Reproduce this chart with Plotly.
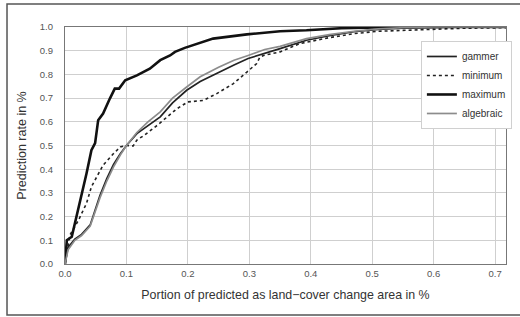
import plotly.graph_objects as go

# Data
gammer_x = [0, 0.005, 0.016, 0.027, 0.041, 0.049, 0.057, 0.068, 0.079, 0.09, 0.1,
            0.117, 0.135, 0.155, 0.175, 0.198, 0.22, 0.25, 0.275, 0.298, 0.325,
            0.35, 0.393, 0.43, 0.47, 0.51, 0.55, 0.6, 0.65, 0.72]
gammer_y = [0, 0.07, 0.105, 0.125, 0.165, 0.23, 0.29, 0.36, 0.42, 0.465, 0.5,
            0.55, 0.585, 0.621, 0.68, 0.733, 0.77, 0.81, 0.84, 0.867, 0.89,
            0.909, 0.944, 0.963, 0.98, 0.99, 0.995, 0.999, 1.0, 1.0]

algebraic_x = gammer_x
algebraic_y = [0, 0.06, 0.1, 0.12, 0.16, 0.22, 0.28, 0.35, 0.41, 0.46, 0.5,
               0.555, 0.6, 0.642, 0.70, 0.747, 0.79, 0.83, 0.86, 0.88, 0.905,
               0.918, 0.951, 0.968, 0.982, 0.992, 0.997, 1.0, 1.0, 1.0]

minimum_x = [0, 0.008, 0.022, 0.035, 0.043, 0.054, 0.062, 0.079, 0.09, 0.1, 0.111,
             0.117, 0.13, 0.15, 0.182, 0.2, 0.225, 0.247, 0.274, 0.296, 0.312,
             0.317, 0.323, 0.35, 0.382, 0.43, 0.47, 0.51, 0.545, 0.6, 0.65, 0.72]
minimum_y = [0, 0.122, 0.185, 0.256, 0.326, 0.382, 0.417, 0.466, 0.494, 0.5, 0.498,
             0.523, 0.545, 0.585, 0.655, 0.684, 0.69, 0.719, 0.761, 0.81, 0.846,
             0.872, 0.88, 0.895, 0.93, 0.955, 0.972, 0.982, 0.986, 0.992, 0.995, 0.997]

maximum_x = [0, 0.003, 0.011, 0.019, 0.027, 0.035, 0.043, 0.049, 0.054, 0.062, 0.073,
             0.081, 0.088, 0.098, 0.117, 0.138, 0.155, 0.171, 0.179, 0.195, 0.241,
             0.296, 0.35, 0.393, 0.45, 0.5, 0.55, 0.6, 0.72]
maximum_y = [0, 0.10, 0.115, 0.2, 0.29, 0.382, 0.48, 0.51, 0.607, 0.635, 0.698,
             0.74, 0.74, 0.775, 0.796, 0.824, 0.86, 0.88, 0.895, 0.912, 0.951,
             0.969, 0.982, 0.986, 0.995, 0.998, 1.0, 1.0, 1.0]

x_ticks = [0.0, 0.1, 0.2, 0.3, 0.4, 0.5, 0.6, 0.7]
y_ticks = [0.0, 0.1, 0.2, 0.3, 0.4, 0.5, 0.6, 0.7, 0.8, 0.9, 1.0]

fig = go.Figure()
fig.add_trace(go.Scatter(x=gammer_x, y=gammer_y, mode="lines", name="gammer",
                         line=dict(color="#222222", width=1.7)))
fig.add_trace(go.Scatter(x=minimum_x, y=minimum_y, mode="lines", name="minimum",
                         line=dict(color="#222222", width=1.6, dash="dot")))
fig.add_trace(go.Scatter(x=maximum_x, y=maximum_y, mode="lines", name="maximum",
                         line=dict(color="#111111", width=2.6)))
fig.add_trace(go.Scatter(x=algebraic_x, y=algebraic_y, mode="lines", name="algebraic",
                         line=dict(color="#8c8c8c", width=1.7)))

fig.update_layout(
    width=520, height=317,
    margin=dict(l=65, r=14, t=27, b=53, autoexpand=False),
    paper_bgcolor="white", plot_bgcolor="white",
    font=dict(family="Liberation Sans, Arial, sans-serif", color="#444444"),
    showlegend=True,
    legend=dict(x=0.807, y=0.941, xanchor="left", yanchor="top",
                bgcolor="white", bordercolor="#d0d0d0", borderwidth=1,
                font=dict(size=10, color="#333333"), itemwidth=30,
                tracegroupgap=0),
    xaxis=dict(range=[0, 0.7177], tickvals=x_ticks, ticktext=[f"{v:.1f}" for v in x_ticks],
               automargin=False,
               showgrid=True, gridcolor="#cfcfcf", gridwidth=1,
               showline=True, linecolor="#777777", linewidth=1.2, mirror=True,
               ticks="", zeroline=False, tickfont=dict(size=9.5, color="#555555"),
               title=dict(text="Portion of predicted as land\u2212cover change area in %",
                          font=dict(size=12.4, color="#333333"), standoff=12)),
    yaxis=dict(range=[0, 1.0], tickvals=y_ticks, ticktext=[f"{v:.1f}" for v in y_ticks],
               automargin=False,
               showgrid=True, gridcolor="#cfcfcf", gridwidth=1,
               showline=True, linecolor="#777777", linewidth=1.2, mirror=True,
               ticks="", zeroline=False, tickfont=dict(size=9.5, color="#555555"),
               ticklabelstandoff=9,
               title=dict(text="Prediction rate in %",
                          font=dict(size=12.5, color="#333333"), standoff=10)),
    shapes=[dict(type="rect", xref="paper", yref="paper",
                 x0=-0.1315, x1=1.1, y0=-0.215, y1=1.097,
                 line=dict(color="#555555", width=1.5), fillcolor="rgba(0,0,0,0)",
                 layer="below")],
)

fig.write_html("out.html", config={"displayModeBar": False},
               post_script="document.body.style.margin='0';document.body.style.padding='0';")
